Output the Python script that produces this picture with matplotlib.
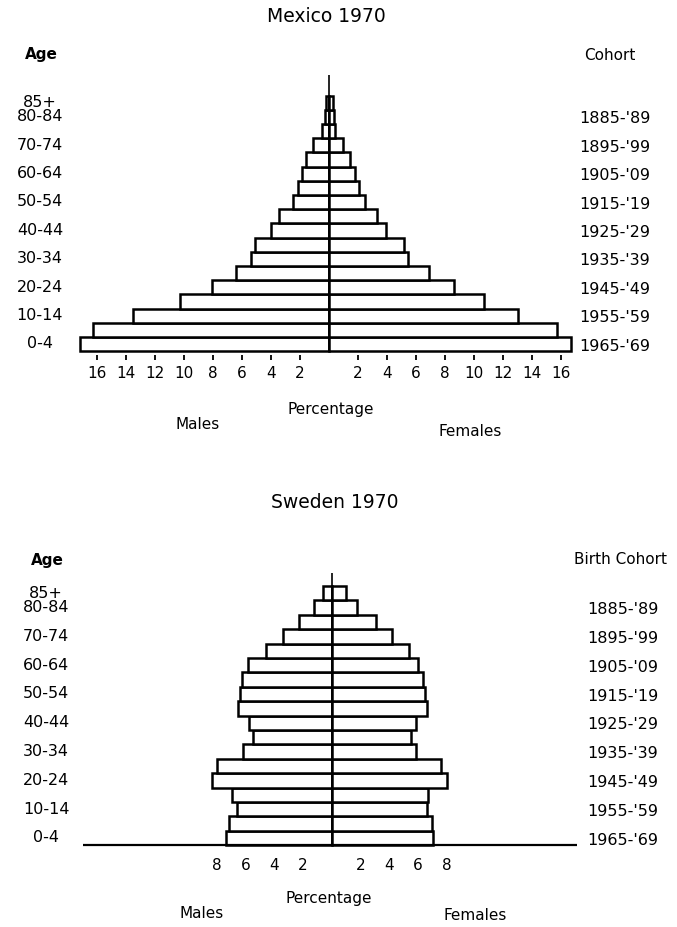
import matplotlib
matplotlib.use("Agg")
import matplotlib.pyplot as plt
from matplotlib.transforms import blended_transform_factory

plt.rcParams["font.family"] = ["DejaVu Sans"]

# Age groups, youngest first
age_groups = ["0-4", "5-9", "10-14", "15-19", "20-24", "25-29", "30-34", "35-39",
              "40-44", "45-49", "50-54", "55-59", "60-64", "65-69", "70-74",
              "75-79", "80-84", "85+"]

# Percentage of population by sex, Mexico 1970
mexico_male = [17.2, 16.3, 13.5, 10.3, 8.05, 6.44, 5.4, 5.1, 4.0, 3.47,
               2.46, 2.16, 1.89, 1.59, 1.08, 0.51, 0.28, 0.2]
mexico_female = [16.7, 15.7, 13.0, 10.7, 8.65, 6.92, 5.42, 5.19, 3.94, 3.3,
                 2.45, 2.1, 1.8, 1.45, 0.99, 0.42, 0.35, 0.3]

# Percentage of population by sex, Sweden 1970
sweden_male = [7.39, 7.14, 6.58, 6.97, 8.37, 8.02, 6.16, 5.51, 5.79, 6.56,
               6.39, 6.23, 5.81, 4.58, 3.42, 2.28, 1.23, 0.58]
sweden_female = [7.04, 6.97, 6.62, 6.69, 8.06, 7.6, 5.88, 5.53, 5.88, 6.62,
                 6.51, 6.39, 6.04, 5.39, 4.23, 3.07, 1.79, 1.0]

# Labelled age groups on the left and birth cohorts on the right
age_labels = ["0-4", "10-14", "20-24", "30-34", "40-44", "50-54", "60-64",
              "70-74", "80-84", "85+"]
cohort_labels = ["1965-'69", "1955-'59", "1945-'49", "1935-'39", "1925-'29",
                 "1915-'19", "1905-'09", "1895-'99", "1885-'89"]

mexico_ticks = [2, 4, 6, 8, 10, 12, 14, 16]
sweden_ticks = [2, 4, 6, 8]

W, H = 677, 927
fig = plt.figure(figsize=(W / 100, H / 100), dpi=100)
fig.patch.set_facecolor("white")


def band_axes(top, bottom):
    ax = fig.add_axes([0, 1 - bottom / H, 1, (bottom - top) / H])
    ax.set_axis_off()
    return ax


def ftext(x, y, s, **kw):
    fig.text(x / W, 1 - y / H, s, **kw)


def pyramid(ax, male, female, center_px, x_scale, row0_px, row_h, top_px, bottom_px,
            ticks, tick_y, line_top, age_x, cohort_x, baseline=None, tick_marks=False):
    ax.set_xlim(-center_px / x_scale, (W - center_px) / x_scale)
    ax.set_ylim((row0_px - bottom_px) / row_h, (row0_px - top_px) / row_h)
    rows = list(range(len(age_groups)))
    kw = dict(height=1.0, color="white", edgecolor="black", linewidth=1.8, zorder=2)
    ax.barh(rows, [-m for m in male], **kw)
    ax.barh(rows, female, **kw)
    ax.vlines(0, -0.5, line_top, color="black", linewidth=1.2, zorder=3)
    if baseline is not None:
        ax.hlines(-0.5, baseline[0], baseline[1], color="black", linewidth=1.6, zorder=3)
    for t in ticks:
        for v in (-t, t):
            if tick_marks:
                ax.vlines(v, -0.78, -1.12, color="black", linewidth=1.3)
            ax.text(v, tick_y, str(t), ha="center", va="center", fontsize=11)
    tr = blended_transform_factory(fig.transFigure, ax.transData)
    for lab in age_labels:
        r = age_groups.index(lab)
        ax.text(age_x / W, r, lab, transform=tr, ha="center", va="center",
                fontsize=11.5)
    for i, lab in enumerate(cohort_labels):
        ax.text(cohort_x / W, 2 * i - 0.15, lab, transform=tr, ha="left",
                va="center", fontsize=11.5)


# Mexico panel
ax1 = band_axes(0, 460)
pyramid(ax1, mexico_male, mexico_female, center_px=329, x_scale=14.5,
        row0_px=344, row_h=14.2, top_px=0, bottom_px=460,
        ticks=mexico_ticks, tick_y=-2.05, line_top=18.94,
        age_x=40, cohort_x=579, tick_marks=True)
ftext(326, 17, "Mexico 1970", ha="center", va="center", fontsize=13.5)
ftext(41, 55, "Age", ha="center", va="center", fontsize=11, fontweight="bold")
ftext(610, 55, "Cohort", ha="center", va="center", fontsize=11)
ftext(331, 410, "Percentage", ha="center", va="center", fontsize=11)
ftext(198, 424, "Males", ha="center", va="center", fontsize=11)
ftext(470, 431, "Females", ha="center", va="center", fontsize=11)

# Sweden panel
ax2 = band_axes(460, 927)
pyramid(ax2, sweden_male, sweden_female, center_px=331.7, x_scale=14.34,
        row0_px=838, row_h=14.4, top_px=460, bottom_px=927,
        ticks=sweden_ticks, tick_y=-1.9, line_top=18.4,
        age_x=46, cohort_x=587, baseline=(-17.35, 17.1))
ftext(335, 503, "Sweden 1970", ha="center", va="center", fontsize=13.5)
ftext(47, 561, "Age", ha="center", va="center", fontsize=11, fontweight="bold")
ftext(620, 559, "Birth Cohort", ha="center", va="center", fontsize=11)
ftext(329, 898, "Percentage", ha="center", va="center", fontsize=11)
ftext(202, 914, "Males", ha="center", va="center", fontsize=11)
ftext(475, 916, "Females", ha="center", va="center", fontsize=11)

fig.savefig("out.png", dpi=100, facecolor="white")
